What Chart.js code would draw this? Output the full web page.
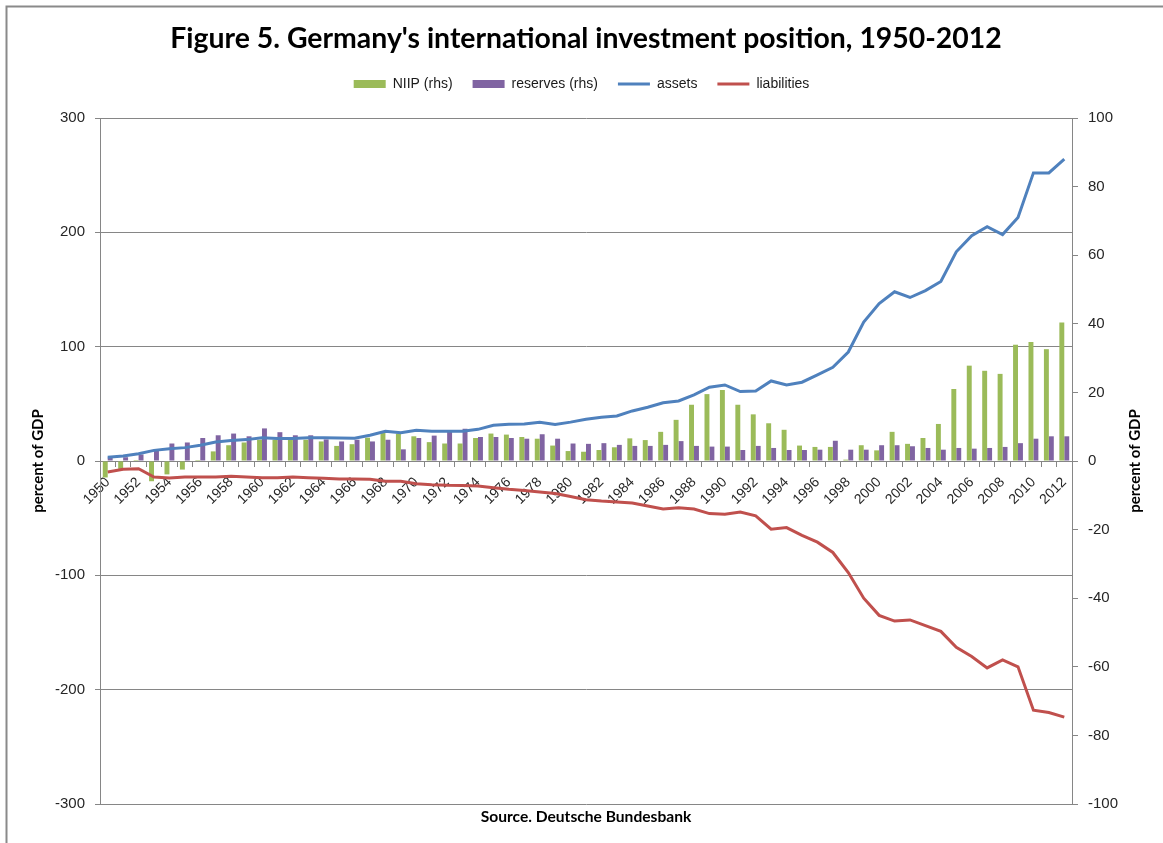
<!DOCTYPE html>
<html><head><meta charset="utf-8">
<script src="https://cdn.jsdelivr.net/npm/chart.js@4.4.1/dist/chart.umd.min.js"></script>
<style>html,body{margin:0;padding:0;background:#fff;} #wrap{position:relative;width:1163px;height:843px;}</style>
</head><body><div id="wrap"><canvas id="c"></canvas></div>
<script>
const years = ['1950','1951','1952','1953','1954','1955','1956','1957','1958','1959',
  '1960','1961','1962','1963','1964','1965','1966','1967','1968','1969',
  '1970','1971','1972','1973','1974','1975','1976','1977','1978','1979',
  '1980','1981','1982','1983','1984','1985','1986','1987','1988','1989',
  '1990','1991','1992','1993','1994','1995','1996','1997','1998','1999',
  '2000','2001','2002','2003','2004','2005','2006','2007','2008','2009',
  '2010','2011','2012'];
// NIIP, right axis (percent of GDP)
const niip = [-4.8,-2.3,0.3,-5.9,-3.9,-2.5,0.3,2.8,4.6,5.4,
  6.2,6.2,6.2,6.2,5.7,4.4,4.9,6.8,8.2,8.0,
  7.2,5.5,5.1,5.1,6.7,8.0,7.7,7.0,6.5,4.5,
  2.9,2.7,3.2,4.0,6.6,6.1,8.5,12.0,16.4,19.5,
  20.7,16.4,13.6,11.0,9.1,4.5,4.1,4.1,0.4,4.6,
  3.1,8.5,5.0,6.7,10.8,21.0,27.8,26.3,25.4,33.9,
  34.7,32.6,40.4];
// reserves, right axis
const reserves = [1.1,1.1,1.9,3.1,5.1,5.4,6.7,7.5,8.0,7.2,
  9.5,8.4,7.5,7.5,6.3,5.7,6.2,5.7,6.2,3.4,
  6.7,7.4,8.5,9.4,7.0,7.0,6.7,6.5,7.8,6.5,
  5.1,5.0,5.2,4.7,4.4,4.4,4.7,5.8,4.4,4.2,
  4.2,3.2,4.4,3.8,3.2,3.2,3.3,5.9,3.3,3.3,
  4.6,4.6,4.3,3.8,3.3,3.8,3.6,3.8,4.1,5.2,
  6.5,7.2,7.2];
// assets, left axis
const assets = [3.3,4.4,6.4,9.3,10.8,11.7,13.7,16.6,18.0,18.7,
  20.4,19.6,19.6,20.3,20.3,20.1,20.0,22.5,26.0,24.8,
  26.9,26.0,26.0,26.0,27.7,31.2,32.1,32.4,33.9,32.0,
  34.0,36.5,38.3,39.4,43.8,47.0,51.0,52.5,57.8,64.5,
  66.5,60.7,61.3,70.0,66.5,68.9,75.3,82.0,95.3,121.5,
  137.7,148,143,149,157,183,197,205,198,213,
  252,252,264];
// liabilities, left axis
const liabilities = [-9.6,-7.3,-6.7,-14.0,-14.9,-14.0,-14.0,-14.0,-13.4,-14.0,
  -14.6,-14.6,-14.0,-14.6,-15.0,-15.8,-15.8,-16.0,-17.8,-17.8,
  -19.8,-20.7,-21.3,-21.5,-21.9,-23.3,-24.8,-25.7,-27.1,-28.5,
  -31.0,-33.8,-35.0,-35.8,-36.7,-39.4,-42.0,-41.0,-42.0,-46.0,
  -46.6,-44.6,-48.0,-59.6,-58.2,-65.0,-71.0,-80.0,-97.6,-120,
  -135,-140,-139,-144,-149,-163,-171,-181,-174,-180,
  -218,-220,-224];

const titleText = "Figure 5. Germany's international investment position, 1950-2012";
const sourceText = 'Source. Deutsche Bundesbank';
const axisTitle = 'percent of GDP';

const GRID = '#868686';
const TICKC = '#262626';

const textPlugin = {
  id: 'texts',
  beforeDraw(chart) {
    const ctx = chart.ctx;
    ctx.save();
    ctx.strokeStyle = '#8a8a8a';
    ctx.lineWidth = 2;
    ctx.beginPath();
    ctx.moveTo(6.5, 843); ctx.lineTo(6.5, 6.5); ctx.lineTo(1163, 6.5);
    ctx.stroke();
    ctx.restore();
  },
  afterDraw(chart) {
    const {ctx, chartArea} = chart;
    const cx = (chartArea.left + chartArea.right) / 2;
    const cy = (chartArea.top + chartArea.bottom) / 2;
    ctx.save();
    ctx.fillStyle = '#000';
    ctx.textAlign = 'center';
    ctx.textBaseline = 'alphabetic';
    ctx.font = 'bold 28.4px Lato';
    ctx.fillText(titleText, cx, 48);
    ctx.font = 'bold 15.6px Lato';
    ctx.fillText(sourceText, cx, 822);
    ctx.textBaseline = 'middle';
    ctx.font = 'bold 15px Lato';
    ctx.save(); ctx.translate(38, cy); ctx.rotate(-Math.PI / 2); ctx.fillText(axisTitle, 0, 0); ctx.restore();
    ctx.save(); ctx.translate(1135, cy); ctx.rotate(-Math.PI / 2); ctx.fillText(axisTitle, 0, 0); ctx.restore();
    ctx.restore();
  }
};

new Chart(document.getElementById('c'), {
  type: 'bar',
  data: {
    labels: years,
    datasets: [
      { type: 'bar', label: 'NIIP (rhs)', data: niip, yAxisID: 'y1', backgroundColor: '#9BBB59', borderWidth: 0, pointStyle: 'rect', order: 2, categoryPercentage: 0.64, barPercentage: 1.0 },
      { type: 'bar', label: 'reserves (rhs)', data: reserves, yAxisID: 'y1', backgroundColor: '#8064A2', borderWidth: 0, pointStyle: 'rect', order: 2, categoryPercentage: 0.64, barPercentage: 1.0 },
      { type: 'line', label: 'assets', data: assets, yAxisID: 'y', borderColor: '#4F81BD', backgroundColor: '#4F81BD', borderWidth: 3, pointRadius: 0, pointHoverRadius: 0, pointStyle: 'line', tension: 0, order: 1 },
      { type: 'line', label: 'liabilities', data: liabilities, yAxisID: 'y', borderColor: '#C0504D', backgroundColor: '#C0504D', borderWidth: 3, pointRadius: 0, pointHoverRadius: 0, pointStyle: 'line', tension: 0, order: 1 }
    ]
  },
  options: {
    responsive: true,
    maintainAspectRatio: false,
    animation: false,
    layout: { padding: { top: 57, left: 0, right: 0, bottom: 39 } },
    plugins: {
      title: { display: false },
      subtitle: { display: true, text: ' ', position: 'top', weight: 500, font: { size: 10, lineHeight: 1 }, padding: { top: 0, bottom: 7 } },
      tooltip: { enabled: false },
      legend: {
        position: 'top',
        labels: {
          usePointStyle: true,
          pointStyleWidth: 32,
          boxHeight: 8,
          padding: 20,
          color: '#1a1a1a',
          font: { family: 'Liberation Sans', size: 14 },
          sort: (a, b) => a.datasetIndex - b.datasetIndex
        }
      }
    },
    scales: {
      x: {
        position: { y: 0 },
        offset: true,
        grid: { display: true, drawOnChartArea: false, drawTicks: true, tickLength: 5, offset: true, color: GRID },
        border: { display: true, color: GRID, width: 1 },
        ticks: {
          autoSkip: false, minRotation: 45, maxRotation: 45, padding: 8,
          color: TICKC, font: { family: 'Liberation Sans', size: 14 },
          callback: function(v, i) { const l = this.getLabelForValue(v); return (parseInt(l) % 2 === 0) ? l : ''; }
        }
      },
      y: {
        position: 'left', min: -300, max: 300,
        ticks: { stepSize: 100, padding: 10, color: TICKC, font: { family: 'Liberation Sans', size: 15 } },
        grid: { color: GRID, lineWidth: 1, drawTicks: true, tickLength: 5 },
        border: { display: true, color: GRID },
        afterFit(scale) { scale.width = 100; }
      },
      y1: {
        position: 'right', min: -100, max: 100,
        ticks: { stepSize: 20, padding: 10, color: TICKC, font: { family: 'Liberation Sans', size: 15 } },
        grid: { drawOnChartArea: false, color: GRID, drawTicks: true, tickLength: 6 },
        border: { display: true, color: GRID },
        afterFit(scale) { scale.width = 91; }
      }
    }
  },
  plugins: [textPlugin]
});
</script>
</body></html>
